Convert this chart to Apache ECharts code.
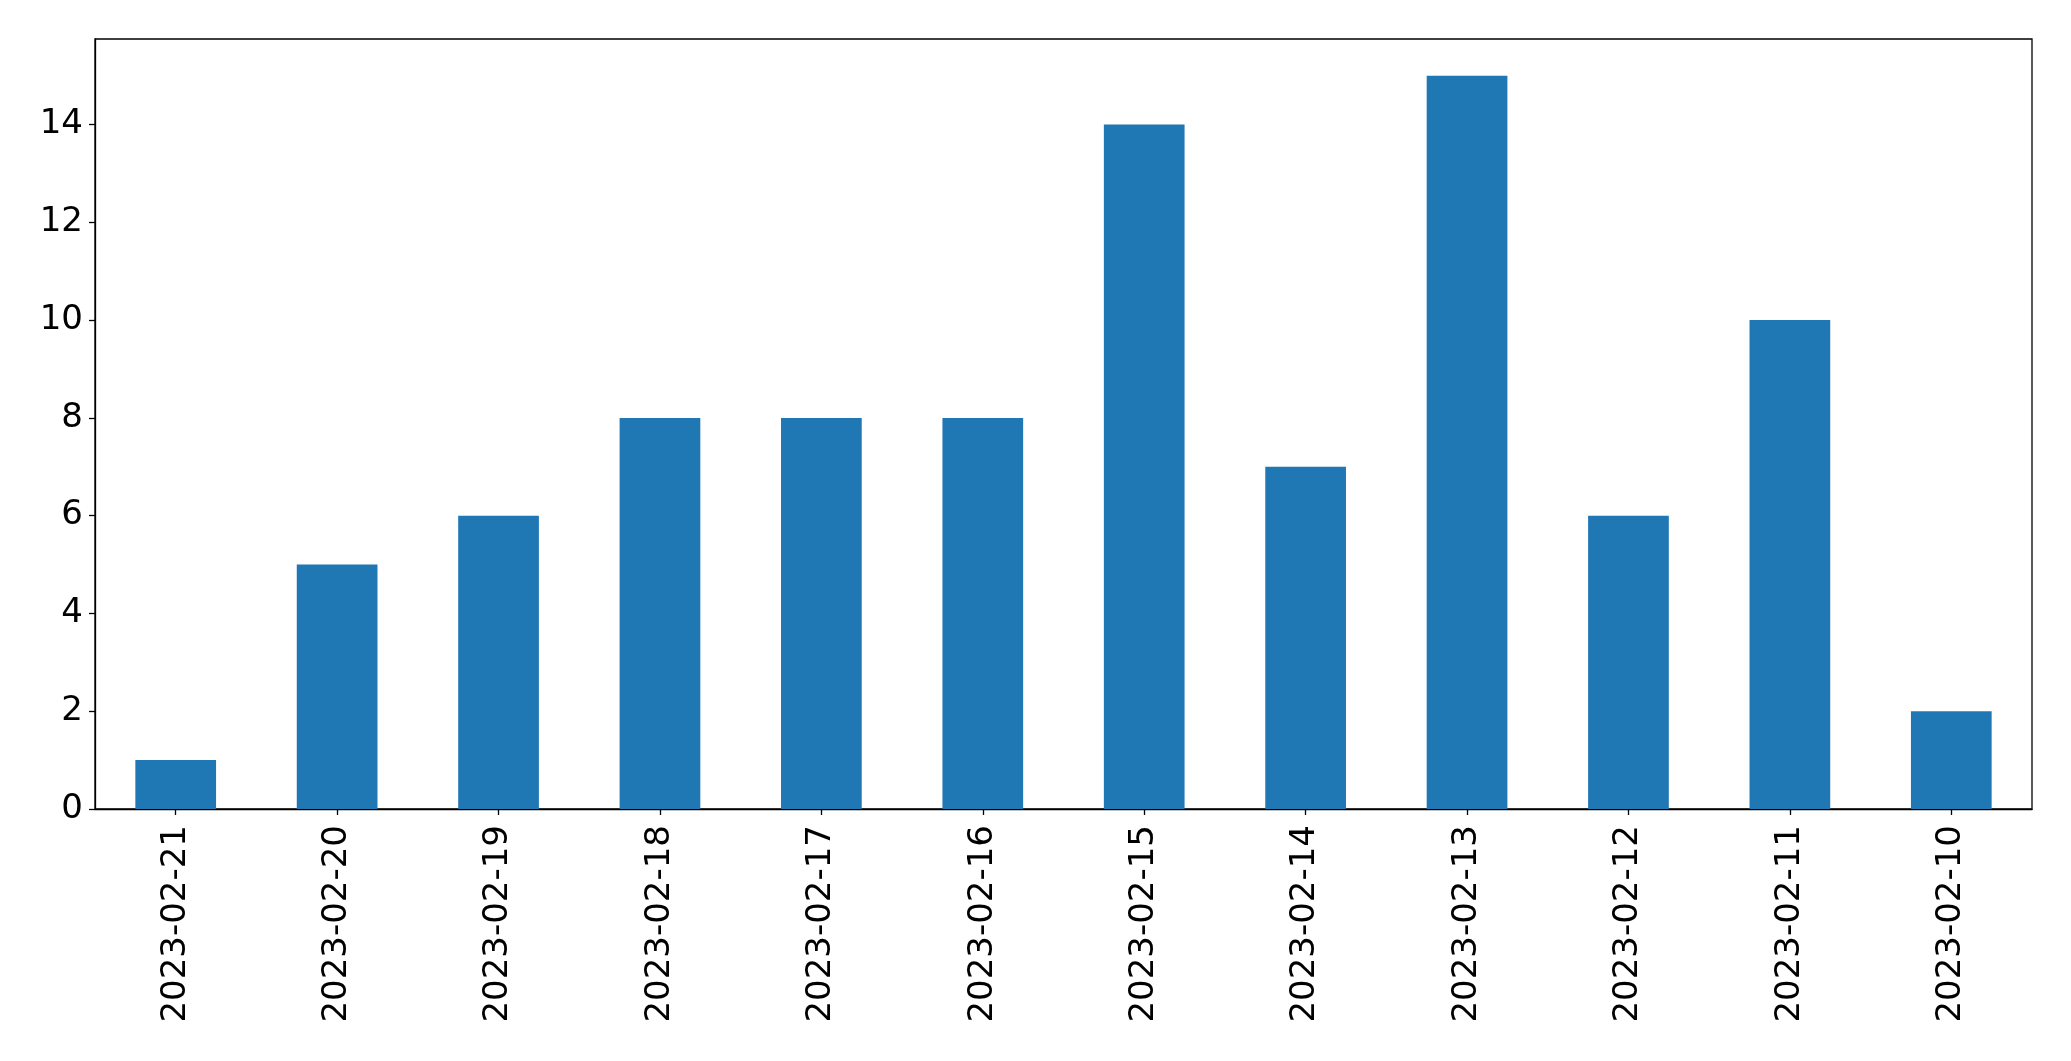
<!DOCTYPE html>
<html>
<head>
<meta charset="utf-8">
<script src="https://cdn.jsdelivr.net/npm/echarts@6/dist/echarts.min.js"></script>
<style>html,body{margin:0;padding:0;background:#fff;}#c{width:2071px;height:1061px;}</style>
</head>
<body>
<div id="c"></div>
<script>
const categories = ['2023-02-21','2023-02-20','2023-02-19','2023-02-18','2023-02-17','2023-02-16','2023-02-15','2023-02-14','2023-02-13','2023-02-12','2023-02-11','2023-02-10'];
const values = [1,5,6,8,8,8,14,7,15,6,10,2];
const yTicks = [0,2,4,6,8,10,12,14];
const yMax = 15.75;

const chart = echarts.init(document.getElementById('c'), null, {renderer:'canvas'});
const font = 'DejaVu Sans';
chart.setOption({
  animation: false,
  backgroundColor: '#fff',
  grid: {left:95, right:39, top:39, bottom:252, show:true, borderColor:'#000', borderWidth:1.3, backgroundColor:'transparent'},
  xAxis: {
    type:'category', data:categories, boundaryGap:true,
    axisLine:{show:true, lineStyle:{color:'#000', width:1.3}},
    axisTick:{show:true, alignWithLabel:true, length:6, lineStyle:{color:'#000', width:1.3}},
    axisLabel:{rotate:90, color:'#000', fontFamily:font, fontSize:34, margin:16, interval:0},
    splitLine:{show:false}
  },
  yAxis: {
    type:'value', min:0, max:yMax,
    axisLine:{show:true, lineStyle:{color:'#000', width:1.3}},
    axisTick:{show:true, length:6, lineStyle:{color:'#000', width:1.3}, customValues: yTicks},
    axisLabel:{color:'#000', fontFamily:font, fontSize:34, margin:12, customValues: yTicks},
    splitLine:{show:false}
  },
  series: [{
    type:'bar', data:values, barWidth:'50%',
    itemStyle:{color:'#1f77b4'}
  }]
});
</script>
</body>
</html>
